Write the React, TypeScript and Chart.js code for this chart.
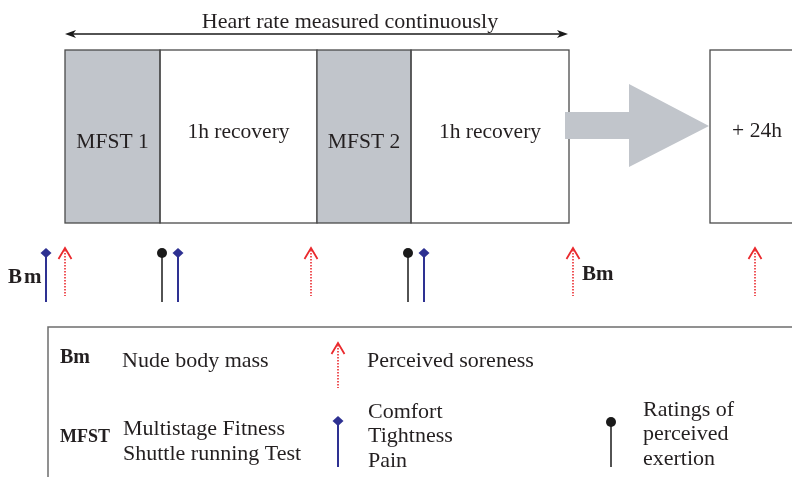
import React, { useEffect, useRef } from "react";
import { Chart, registerables } from "chart.js";

Chart.register(...registerables);

// Timeline phases (x units on a 0..792 axis)
const phaseLabels = ["MFST 1", "1h recovery", "MFST 2", "1h recovery"];
const phaseStart = [65, 160, 317, 411];
const phaseEnd = [160, 317, 411, 569];
const phaseIsTest = [true, false, true, false];
const followUpLabel = "+ 24h";
const followUpStart = 710;
const followUpEnd = 800;
const heartRateLabel = "Heart rate measured continuously";
const heartRateStart = 65;
const heartRateEnd = 568;

// Measurement markers (x positions)
const sorenessX = [65, 311, 573, 755];
const tightnessX = [46, 178, 424];
const rpeX = [162, 408];
const bodyMassX = [46, 573];

// Legend
const legendLabels = {
  bm: "Bm",
  bmText: "Nude body mass",
  mfst: "MFST",
  mfstText: ["Multistage Fitness", "Shuttle running Test"],
  soreness: "Perceived soreness",
  ctp: ["Comfort", "Tightness", "Pain"],
  rpe: ["Ratings of", "perceived", "exertion"],
};

const GREY = "#c1c5cb";
const BORDER = "#4a4a4a";
const RED = "#ea2a2e";
const BLUE = "#2e3192";
const BLACK = "#1a1a1a";
const SERIF = '"Liberation Serif", "Times New Roman", serif';

const diagramPlugin = {
  id: "diagram",
  afterDraw(chart: any) {
    const ctx = chart.ctx as CanvasRenderingContext2D;
    const xs = chart.scales.x;
    const ys = chart.scales.y;
    const X = (v: number) => xs.getPixelForValue(v);
    const Y = (v: number) => ys.getPixelForValue(v);
    ctx.save();

    const text = (s: string, x: number, y: number, size: number, align: CanvasTextAlign = "left", bold = false, spacing = 0) => {
      ctx.font = `${bold ? "bold " : ""}${size}px ${SERIF}`;
      (ctx as any).letterSpacing = `${spacing}px`;
      ctx.fillStyle = "#231f20";
      ctx.textAlign = align;
      ctx.textBaseline = "middle";
      ctx.fillText(s, X(x), Y(y));
      (ctx as any).letterSpacing = "0px";
    };

    // Heart rate double arrow
    ctx.strokeStyle = BLACK;
    ctx.fillStyle = BLACK;
    ctx.lineWidth = 1.5;
    ctx.beginPath();
    ctx.moveTo(X(heartRateStart) + 4, Y(34));
    ctx.lineTo(X(heartRateEnd) - 4, Y(34));
    ctx.stroke();
    const head = (x: number, dir: number) => {
      ctx.beginPath();
      ctx.moveTo(X(x), Y(34));
      ctx.lineTo(X(x) - dir * 11, Y(34) - 4);
      ctx.lineTo(X(x) - dir * 8, Y(34));
      ctx.lineTo(X(x) - dir * 11, Y(34) + 4);
      ctx.closePath();
      ctx.fill();
    };
    head(heartRateStart, -1);
    head(heartRateEnd, 1);
    text(heartRateLabel, 350, 22, 22, "center");

    // Phase boxes
    ctx.lineWidth = 1.3;
    ctx.strokeStyle = BORDER;
    phaseLabels.forEach((lab, i) => {
      const x0 = X(phaseStart[i]);
      const x1 = X(phaseEnd[i]);
      const y0 = Y(50);
      const y1 = Y(223);
      if (phaseIsTest[i]) {
        ctx.fillStyle = GREY;
        ctx.fillRect(x0, y0, x1 - x0, y1 - y0);
      }
      ctx.strokeRect(x0, y0, x1 - x0, y1 - y0);
      const cx = (phaseStart[i] + phaseEnd[i]) / 2;
      text(lab, cx, phaseIsTest[i] ? 142 : 132, 21.5, "center");
    });

    // Big grey arrow
    ctx.fillStyle = GREY;
    ctx.beginPath();
    ctx.moveTo(X(565), Y(112));
    ctx.lineTo(X(629), Y(112));
    ctx.lineTo(X(629), Y(84));
    ctx.lineTo(X(709), Y(126));
    ctx.lineTo(X(629), Y(167));
    ctx.lineTo(X(629), Y(139));
    ctx.lineTo(X(565), Y(139));
    ctx.closePath();
    ctx.fill();

    // Follow-up box
    ctx.strokeStyle = BORDER;
    ctx.strokeRect(X(followUpStart), Y(50), X(followUpEnd) - X(followUpStart), Y(223) - Y(50));
    text(followUpLabel, 757, 131, 21.5, "center");

    // Marker drawers
    const soreness = (x: number, top: number, bottom: number) => {
      ctx.strokeStyle = RED;
      ctx.lineWidth = 1.6;
      ctx.setLineDash([1.5, 1.5]);
      ctx.beginPath();
      ctx.moveTo(X(x), Y(top) + 2);
      ctx.lineTo(X(x), Y(bottom));
      ctx.stroke();
      ctx.setLineDash([]);
      ctx.lineWidth = 1.8;
      ctx.beginPath();
      ctx.moveTo(X(x) - 6.5, Y(top) + 11);
      ctx.lineTo(X(x), Y(top));
      ctx.lineTo(X(x) + 6.5, Y(top) + 11);
      ctx.stroke();
    };
    const tightness = (x: number, top: number, bottom: number) => {
      ctx.strokeStyle = BLUE;
      ctx.fillStyle = BLUE;
      ctx.lineWidth = 2;
      ctx.beginPath();
      ctx.moveTo(X(x), Y(top));
      ctx.lineTo(X(x), Y(bottom));
      ctx.stroke();
      ctx.beginPath();
      ctx.moveTo(X(x), Y(top) - 5);
      ctx.lineTo(X(x) + 5.5, Y(top));
      ctx.lineTo(X(x), Y(top) + 5);
      ctx.lineTo(X(x) - 5.5, Y(top));
      ctx.closePath();
      ctx.fill();
    };
    const rpe = (x: number, top: number, bottom: number) => {
      ctx.strokeStyle = BLACK;
      ctx.fillStyle = BLACK;
      ctx.lineWidth = 1.5;
      ctx.beginPath();
      ctx.moveTo(X(x), Y(top));
      ctx.lineTo(X(x), Y(bottom));
      ctx.stroke();
      ctx.beginPath();
      ctx.arc(X(x), Y(top), 5, 0, Math.PI * 2);
      ctx.fill();
    };

    sorenessX.forEach((x) => soreness(x, 248, 296));
    tightnessX.forEach((x) => tightness(x, 253, 302));
    rpeX.forEach((x) => rpe(x, 253, 302));
    text(legendLabels.bm, bodyMassX[0] - 38, 278, 21, "left", true, 2);
    text(legendLabels.bm, bodyMassX[1] + 9, 275, 21, "left", true);

    // Legend box
    ctx.strokeStyle = "#6d6d6d";
    ctx.lineWidth = 1.5;
    ctx.beginPath();
    ctx.moveTo(X(800), Y(327));
    ctx.lineTo(X(48), Y(327));
    ctx.lineTo(X(48), Y(480));
    ctx.stroke();

    text(legendLabels.bm, 60, 358, 20, "left", true);
    text(legendLabels.bmText, 122, 361, 22);
    soreness(338, 343, 388);
    text(legendLabels.soreness, 367, 361, 22);

    text(legendLabels.mfst, 60, 437, 18, "left", true);
    text(legendLabels.mfstText[0], 123, 429, 22);
    text(legendLabels.mfstText[1], 123, 454, 22);
    tightness(338, 421, 467);
    legendLabels.ctp.forEach((s, i) => text(s, 368, 412 + i * 24.5, 22));
    rpe(611, 422, 467);
    legendLabels.rpe.forEach((s, i) => text(s, 643, 410 + i * 24.5, 22));

    ctx.restore();
  },
};

export default function App() {
  const ref = useRef<HTMLCanvasElement | null>(null);
  useEffect(() => {
    document.body.style.margin = "0";
    const canvas = ref.current!;
    const chart = new Chart(canvas, {
      type: "scatter",
      data: { datasets: [{ data: [], pointRadius: 0 }] },
      options: {
        animation: false,
        responsive: false,
        devicePixelRatio: 1,
        layout: { padding: 0 },
        plugins: { legend: { display: false }, tooltip: { enabled: false } },
        scales: {
          x: { type: "linear", min: 0, max: 792, display: false },
          y: { type: "linear", min: 0, max: 477, reverse: true, display: false },
        },
      },
      plugins: [diagramPlugin],
    });
    return () => chart.destroy();
  }, []);
  return <canvas ref={ref} width={792} height={477} style={{ display: "block", background: "#fff" }} />;
}
